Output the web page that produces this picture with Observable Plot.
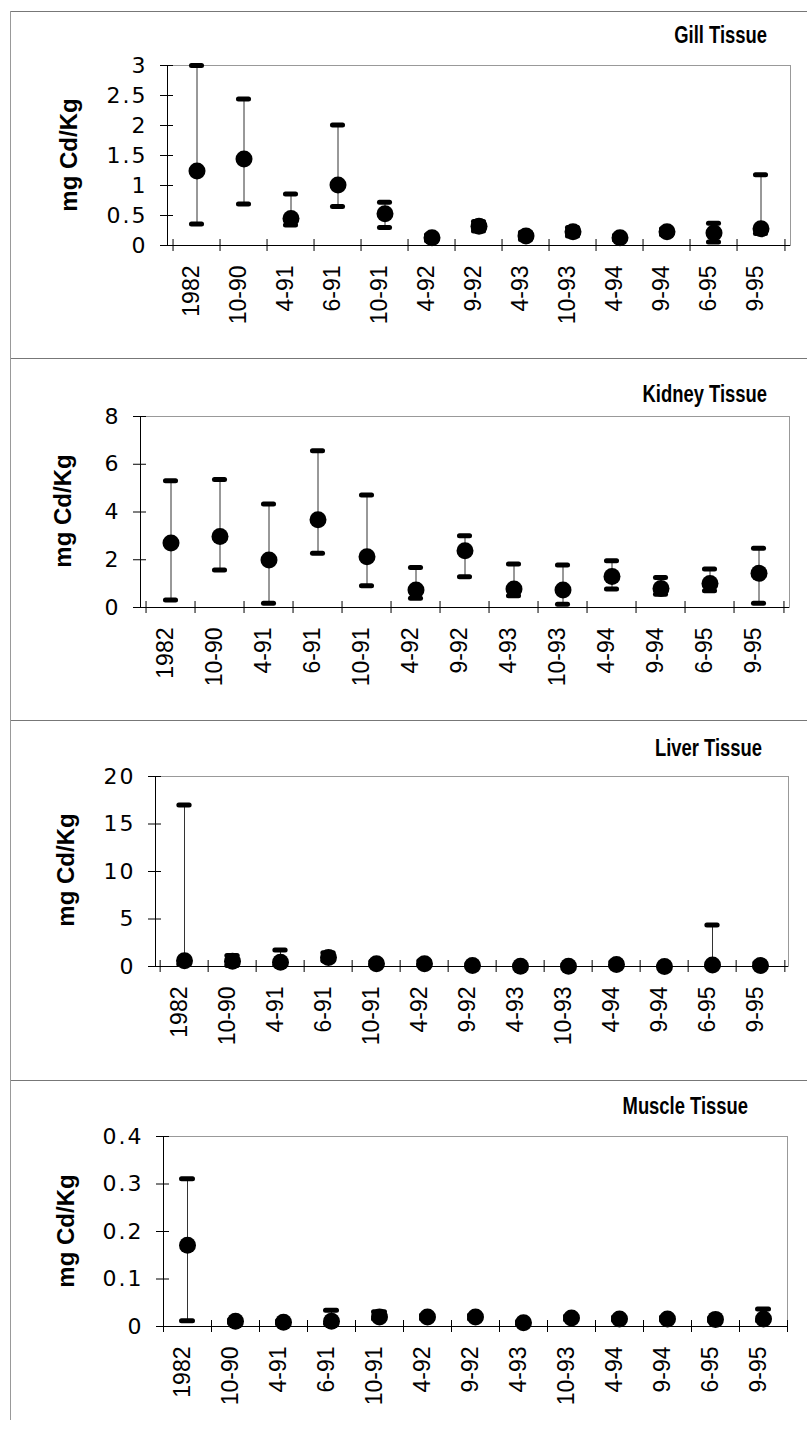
<!DOCTYPE html>
<html><head><meta charset="utf-8">
<script src="https://cdn.jsdelivr.net/npm/d3@7"></script>
<script src="https://cdn.jsdelivr.net/npm/@observablehq/plot@0.6"></script>
<style>
body{margin:0;background:#fff;}
#root{position:relative;width:807px;height:1432px;overflow:hidden;background:#fff;}
.panel{position:absolute;left:0;}
.title{position:absolute;font:bold 23px "Liberation Sans",Arial,sans-serif;white-space:nowrap;transform-origin:100% 50%;transform:translate(-100%,-50%) scaleX(0.8);color:#000;z-index:3;}
.ylab{position:absolute;font:bold 24px "Liberation Sans",Arial,sans-serif;white-space:nowrap;transform:translate(-50%,-50%) rotate(-90deg);color:#000;z-index:3;}
.hl{position:absolute;height:0;border-top:1px solid #777;z-index:2;}
.vl{position:absolute;width:0;border-left:1px solid #999;z-index:2;}
g[aria-label="y-axis tick label"] text{letter-spacing:2px;}
</style>
</head><body><div id="root"></div>
<script>
const categories = ["1982","10-90","4-91","6-91","10-91","4-92","9-92","4-93","10-93","4-94","9-94","6-95","9-95"];

const gillMean = [1.24,1.44,0.45,1.01,0.53,0.13,0.32,0.16,0.23,0.13,0.23,0.21,0.28];
const gillLow  = [0.36,0.69,0.34,0.65,0.30,0.08,0.24,0.10,0.16,0.09,0.18,0.06,0.20];
const gillHigh = [3.00,2.44,0.86,2.01,0.72,0.18,0.40,0.22,0.30,0.17,0.28,0.37,1.18];
const gillTicks = [0,0.5,1,1.5,2,2.5,3];

const kidneyMean = [2.70,2.97,1.99,3.68,2.13,0.73,2.38,0.77,0.73,1.30,0.80,1.01,1.43];
const kidneyLow  = [0.31,1.57,0.18,2.27,0.91,0.39,1.29,0.49,0.14,0.77,0.56,0.70,0.18];
const kidneyHigh = [5.31,5.36,4.34,6.57,4.71,1.68,3.01,1.82,1.78,1.96,1.26,1.61,2.48];
const kidneyTicks = [0,2,4,6,8];

const liverMean = [0.60,0.55,0.45,0.95,0.28,0.28,0.10,0.02,0.02,0.20,0.00,0.15,0.10];
const liverLow  = [0.20,0.10,0.15,0.60,0.10,0.10,0.00,0.00,0.00,0.05,0.00,0.00,0.00];
const liverHigh = [17.0,1.16,1.75,1.45,0.55,0.60,0.30,0.15,0.20,0.50,0.10,4.38,0.40];
const liverTicks = [0,5,10,15,20];

const muscleMean = [0.171,0.011,0.009,0.011,0.020,0.020,0.020,0.008,0.018,0.016,0.016,0.015,0.016];
const muscleLow  = [0.012,0.008,0.006,0.006,0.016,0.016,0.016,0.005,0.014,0.013,0.013,0.012,0.012];
const muscleHigh = [0.311,0.014,0.012,0.034,0.031,0.024,0.024,0.011,0.022,0.020,0.020,0.018,0.037];
const muscleTicks = [0,0.1,0.2,0.3,0.4];

const panels = [
  {title:"Gill Tissue", mean:gillMean, low:gillLow, high:gillHigh, ticks:gillTicks,
   top:0, h:358, ml:167, mr:17, mt:65, mb:113, tx:767, ty:35, lx:69, ly:155},
  {title:"Kidney Tissue", mean:kidneyMean, low:kidneyLow, high:kidneyHigh, ticks:kidneyTicks,
   top:358, h:362, ml:140, mr:18, mt:58, mb:113, tx:767, ty:394, lx:63, ly:511},
  {title:"Liver Tissue", mean:liverMean, low:liverLow, high:liverHigh, ticks:liverTicks,
   top:720, h:360, ml:155, mr:19, mt:56, mb:114, tx:762, ty:748, lx:66, ly:870},
  {title:"Muscle Tissue", mean:muscleMean, low:muscleLow, high:muscleHigh, ticks:muscleTicks,
   top:1080, h:352, ml:163, mr:20, mt:56, mb:106, tx:748, ty:1106, lx:66, ly:1231}
];

const W = 807;
const root = document.getElementById("root");

function makePanel(p) {
  const data = categories.map((c, i) => ({c, m: p.mean[i], lo: p.low[i], hi: p.high[i]}));
  const bw = (W - p.ml - p.mr) / categories.length;
  const capInset = (bw - 11) / 2;
  const dom = [p.ticks[0], p.ticks[p.ticks.length - 1]];
  const capStyle = {x: "c", insetLeft: capInset, insetRight: capInset, stroke: "#000", strokeWidth: 5, strokeLinecap: "round"};
  return Plot.plot({
    width: W, height: p.h,
    marginLeft: p.ml, marginRight: p.mr, marginTop: p.mt, marginBottom: p.mb,
    x: {domain: categories, padding: 0},
    y: {domain: dom},
    style: {background: "transparent", overflow: "visible", color: "#000"},
    marks: [
      Plot.frame({stroke: "#999", strokeWidth: 1}),
      Plot.ruleY([dom[0]], {stroke: "#000", strokeWidth: 1}),
      Plot.frame({anchor: "left", stroke: "#000", strokeWidth: 1}),
      Plot.axisY({ticks: p.ticks, tickSize: 13, dx: 6, tickFormat: () => "", label: null, stroke: "#000"}),
      Plot.axisY({ticks: p.ticks, tickSize: 0, tickPadding: 20, tickFormat: d => String(d), label: null,
        fontSize: 22, fontFamily: "DejaVu Sans, sans-serif", fill: "#000"}),
      Plot.axisX({tickSize: 12, dx: -bw / 2, dy: -6, tickFormat: () => "", label: null, stroke: "#000"}),
      Plot.axisX({ticks: [categories[categories.length - 1]], tickSize: 12, dx: bw / 2, dy: -6, tickFormat: () => "", label: null, stroke: "#000"}),
      Plot.axisX({tickSize: 0, tickPadding: 20, tickRotate: -90, label: null, dx: -5,
        fontSize: 23, fontFamily: "Liberation Sans Narrow, Liberation Sans, sans-serif", fill: "#000"}),
      Plot.ruleX(data, {x: "c", y1: "lo", y2: "hi", stroke: "#333", strokeWidth: 1}),
      Plot.tickY(data, {...capStyle, y: "lo"}),
      Plot.tickY(data, {...capStyle, y: "hi"}),
      Plot.dot(data, {x: "c", y: "m", r: 8.5, fill: "#000", stroke: "none"})
    ]
  });
}

for (const p of panels) {
  const div = document.createElement("div");
  div.className = "panel";
  div.style.top = p.top + "px";
  div.appendChild(makePanel(p));
  root.appendChild(div);

  const t = document.createElement("div");
  t.className = "title";
  t.textContent = p.title;
  t.style.left = p.tx + "px";
  t.style.top = p.ty + "px";
  root.appendChild(t);

  const yl = document.createElement("div");
  yl.className = "ylab";
  yl.textContent = "mg Cd/Kg";
  yl.style.left = p.lx + "px";
  yl.style.top = p.ly + "px";
  root.appendChild(yl);
}

// panel separator lines and left border of the figure
for (const y of [11, 358, 720, 1080]) {
  const l = document.createElement("div");
  l.className = "hl";
  l.style.top = y + "px";
  l.style.left = "10px";
  l.style.width = (W - 10) + "px";
  root.appendChild(l);
}
const v = document.createElement("div");
v.className = "vl";
v.style.left = "10px";
v.style.top = "11px";
v.style.height = "1409px";
root.appendChild(v);
</script>
</body></html>
